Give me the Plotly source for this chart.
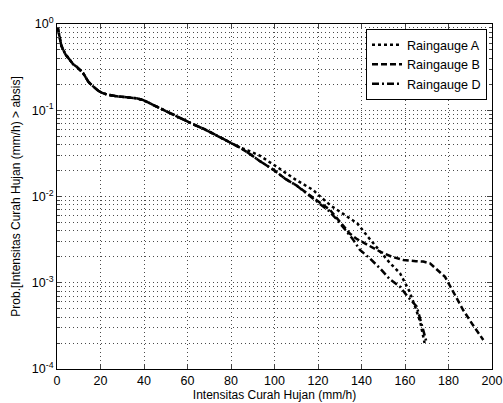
import plotly.graph_objects as go

# ---- data ----
x_common = [0.3, 0.6, 1.0, 1.4, 2.0, 2.9, 4.0, 5.0, 6.0, 7.5, 9.0, 10.0, 12.0, 13.0,
            14.4, 16.0, 17.5, 19.0, 20.5, 23.0, 26.7, 30.0, 34.3, 37.0, 39.7, 42.8,
            45.0, 50.0, 53.5, 58.0, 63.0, 68.0, 75.0, 79.5, 84.0]
y_common = [0.92, 0.85, 0.75, 0.65, 0.56, 0.50, 0.44, 0.41, 0.38, 0.34, 0.32, 0.30,
            0.27, 0.245, 0.214, 0.195, 0.18, 0.168, 0.16, 0.152, 0.146, 0.143, 0.141,
            0.137, 0.131, 0.12, 0.112, 0.098, 0.089, 0.079, 0.068, 0.060, 0.049,
            0.043, 0.037]

x_a = [88, 93, 100, 105, 110, 117.8, 120, 126, 132, 138, 143, 148, 153, 157.7,
       159.5, 162, 165, 167, 169]
y_a = [0.034, 0.030, 0.023, 0.019, 0.0155, 0.0119, 0.0105, 0.0078, 0.0062, 0.0049,
       0.0034, 0.0024, 0.0017, 0.00129, 0.00105, 0.0008, 0.0005, 0.00035, 0.0002]

x_b = [88, 93, 100, 105, 110, 114.8, 120, 125.5, 130, 134.7, 138, 142, 148.5, 154,
       159.2, 165, 168.4, 171.5, 175, 178.4, 182, 186.8, 191, 196]
y_b = [0.032, 0.026, 0.020, 0.016, 0.0135, 0.0109, 0.0088, 0.0070, 0.0052, 0.0037,
       0.0032, 0.0028, 0.0023, 0.0020, 0.00184, 0.00178, 0.00176, 0.00168, 0.0014,
       0.00117, 0.0008, 0.00048, 0.00033, 0.000217]

x_d = [88, 93, 100, 105, 110, 114.8, 120, 125, 129, 133, 136, 139.3, 144, 148.5,
       153, 157.7, 161, 165.4, 167, 168.5, 170]
y_d = [0.032, 0.026, 0.020, 0.016, 0.0135, 0.0108, 0.0085, 0.0068, 0.0053, 0.0040,
       0.0032, 0.0024, 0.0019, 0.00147, 0.0011, 0.0009, 0.0007, 0.00053, 0.00037,
       0.00028, 0.0002]

names = ["Raingauge A", "Raingauge B", "Raingauge D"]
x_ticks = [0, 20, 40, 60, 80, 100, 120, 140, 160, 180, 200]
y_ticks = [1e-4, 1e-3, 1e-2, 1e-1, 1e0]
y_ticktext = ["10<sup>-4</sup>", "10<sup>-3</sup>", "10<sup>-2</sup>",
              "10<sup>-1</sup>", "10<sup>0</sup>"]

series = [
    (names[0], x_common + x_a, y_common + y_a, "dot"),
    (names[1], x_common + x_b, y_common + y_b, "6px,3px"),
    (names[2], x_common + x_d, y_common + y_d, "7px,3px,2px,3px"),
]

fig = go.Figure()
for name, xs, ys, dash in series:
    fig.add_trace(go.Scatter(x=xs, y=ys, mode="lines", name=name,
                             line=dict(color="black", width=2.5, dash=dash)))

font = "Liberation Sans, Arial, Helvetica, sans-serif"
grid_col = "#4a4a4a"
grid_dash = "1px,3px"
fig.update_layout(
    width=503, height=403,
    margin=dict(l=57, r=11, t=24, b=34, autoexpand=False),
    paper_bgcolor="white", plot_bgcolor="white",
    font=dict(family=font, size=12, color="black"),
    showlegend=True,
    legend=dict(x=0.9885, y=0.985, xanchor="right", yanchor="top",
                bgcolor="white", bordercolor="black", borderwidth=1,
                font=dict(size=12.6), tracegroupgap=0),
    xaxis=dict(range=[0, 200], tickvals=x_ticks, ticks="inside", ticklen=5,
               automargin=False,
               showline=True, linecolor="black", linewidth=1, mirror="allticks",
               showgrid=True, gridcolor=grid_col, griddash=grid_dash, gridwidth=1,
               zeroline=False, tickfont=dict(size=12.5),
               title=dict(text="Intensitas Curah Hujan (mm/h)", font=dict(size=12),
                          standoff=0)),
    yaxis=dict(type="log", range=[-4, 0], tickvals=y_ticks, ticktext=y_ticktext,
               ticks="inside", ticklen=5, automargin=False,
               showline=True, linecolor="black", linewidth=1, mirror="allticks",
               showgrid=True, gridcolor=grid_col, griddash=grid_dash, gridwidth=1,
               zeroline=False, tickfont=dict(size=12.5),
               minor=dict(dtick="D1", ticks="inside", ticklen=3, showgrid=True,
                          gridcolor=grid_col, griddash=grid_dash, gridwidth=1),
               title=dict(text="Prob.[Intensitas Curah Hujan (mm/h) > absis]",
                          font=dict(size=12), standoff=8)),
)

fig.write_html("out.html",
               config={"displayModeBar": False},
               post_script="document.body.style.margin='0';"
                           "document.body.style.overflow='hidden';")
